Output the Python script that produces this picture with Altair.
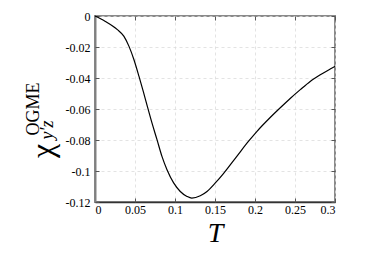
import altair as alt
import pandas as pd

T_vals = [0, 0.013, 0.028, 0.036, 0.0425, 0.0487, 0.055, 0.0605, 0.065, 0.0712,
          0.0775, 0.0837, 0.09, 0.0983, 0.1066, 0.115, 0.121, 0.1316, 0.14, 0.1504,
          0.1608, 0.1712, 0.1816, 0.192, 0.2025, 0.219, 0.2316, 0.244, 0.2566, 0.269,
          0.2816, 0.294, 0.3]
chi_vals = [0, -0.0035, -0.0088, -0.013, -0.0196, -0.0282, -0.039, -0.049, -0.0575,
            -0.069, -0.0798, -0.0906, -0.0992, -0.1077, -0.1132, -0.1164, -0.1175,
            -0.116, -0.1132, -0.1077, -0.1015, -0.0946, -0.0876, -0.0808, -0.0744,
            -0.0655, -0.0592, -0.0532, -0.0475, -0.0422, -0.0379, -0.0342, -0.0325]
x_ticks = [0, 0.05, 0.1, 0.15, 0.2, 0.25, 0.3]
y_ticks = [0, -0.02, -0.04, -0.06, -0.08, -0.1, -0.12]

df = pd.DataFrame({"T": T_vals, "chi": chi_vals})
FONT = "Liberation Serif"

xs = alt.Scale(domain=[0, 0.3], nice=False, zero=False)
ys = alt.Scale(domain=[-0.12, 0], nice=False, zero=False)

main = alt.Chart(df).mark_line(color="black", strokeWidth=1.2, interpolate="monotone").encode(
    x=alt.X("T:Q", scale=xs, axis=alt.Axis(
        values=x_ticks, labelExpr="toString(datum.value)", title="T",
        titleFont=FONT, titleFontSize=28, titleFontStyle="italic", titleFontWeight="normal",
        titlePadding=4, titleColor="black",
        labelFont=FONT, labelFontSize=12, labelColor="black", labelPadding=2,
        ticks=False, domainColor="#333333", domainWidth=1.5,
        grid=True, gridColor="#dcdcdc", gridDash=[3, 3], gridWidth=0.8)),
    y=alt.Y("chi:Q", scale=ys, axis=alt.Axis(
        values=y_ticks, labelExpr="toString(datum.value)", title=None,
        labelFont=FONT, labelFontSize=12, labelColor="black", labelPadding=5,
        ticks=False, domainColor="#808080", domainWidth=2,
        grid=True, gridColor="#dcdcdc", gridDash=[3, 3], gridWidth=0.8)),
)

def tick_layer(xorient, yorient):
    return alt.Chart(df).mark_line(opacity=0).encode(
        x=alt.X("T:Q", scale=xs, axis=alt.Axis(
            orient=xorient, values=x_ticks, labels=False, title=None, domain=False,
            grid=False, ticks=True, tickSize=4, offset=-4, tickColor="#555555")),
        y=alt.Y("chi:Q", scale=ys, axis=alt.Axis(
            orient=yorient, values=y_ticks, labels=False, title=None, domain=False,
            grid=False, ticks=True, tickSize=4, offset=-4, tickColor="#555555")),
    )

lbl = pd.DataFrame({"a": [0]})
chi_txt = alt.Chart(lbl).mark_text(text="χ", font=FONT, fontSize=32, angle=270,
                                   align="center", baseline="middle", color="black").encode(
    x=alt.value(-52), y=alt.value(135))
sup_txt = alt.Chart(lbl).mark_text(text="OGME", font=FONT, fontSize=18, angle=270,
                                   align="center", baseline="middle", color="black").encode(
    x=alt.value(-61.5), y=alt.value(93))
sub_txt = alt.Chart(lbl).mark_text(text="y′z", font=FONT, fontSize=18, fontStyle="italic",
                                   angle=270, align="center", baseline="middle",
                                   color="black").encode(
    x=alt.value(-47.5), y=alt.value(114))

chart = alt.layer(main, tick_layer("bottom", "left"), tick_layer("top", "right"),
                  chi_txt, sup_txt, sub_txt).resolve_axis(
    x="independent", y="independent"
).properties(
    width=240, height=186,
    autosize=alt.AutoSizeParams(type="none"),
    padding={"left": 87, "top": 8, "right": 30, "bottom": 50},
).configure_view(stroke="#8a8a8a", strokeWidth=2)

chart.save("out.html", embed_options={"renderer": "svg", "actions": False})
